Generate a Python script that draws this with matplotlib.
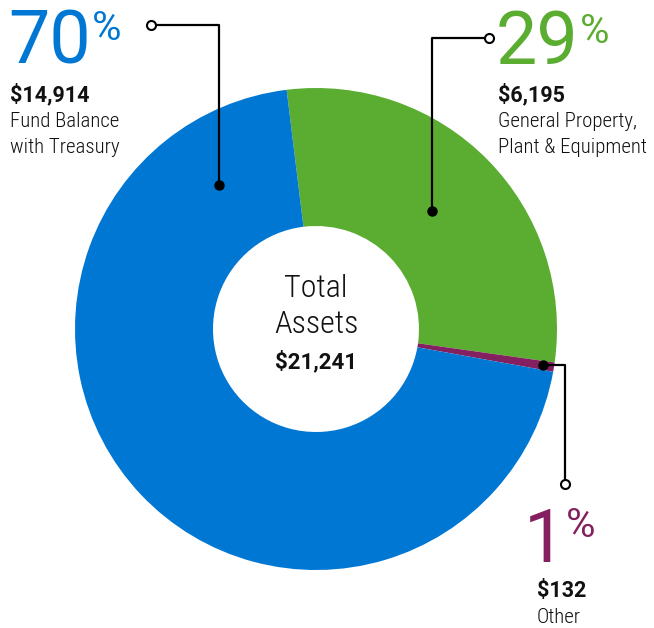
import numpy as np
import matplotlib
matplotlib.use('Agg')
import matplotlib.pyplot as plt
from matplotlib import font_manager

# data (millions of dollars)
categories = ['General Property,\nPlant & Equipment', 'Other', 'Fund Balance\nwith Treasury']
values = [6195, 132, 14914]
percent_labels = ['29', '1', '70']
colors = ['#5BAD32', '#84205F', '#0177D4']

W, H = 654, 628


def pick(names):
    for n in names:
        try:
            font_manager.findfont(n, fallback_to_default=False)
            return n
        except ValueError:
            pass
    return 'DejaVu Sans'


narrow = pick(['Roboto Condensed', 'Liberation Sans Narrow', 'Roboto'])
body_size = 13 if narrow == 'Roboto' else 15
plt.rcParams['font.family'] = [narrow, 'DejaVu Sans']
wide = ['Roboto', 'DejaVu Sans']

fig = plt.figure(figsize=(W / 100, H / 100), dpi=100)
ax = fig.add_axes([0, 0, 1, 1])
renderer = fig.canvas.get_renderer()


def py(y):
    # image pixel row -> data y
    return H - y


cx, cy, r_out, r_in = 316, 329, 241, 103
wedges, _ = ax.pie(values, colors=colors, startangle=97, counterclock=False,
                   center=(cx, py(cy)), radius=r_out,
                   wedgeprops=dict(width=r_out - r_in, edgecolor='none', linewidth=0))
ax.set_xlim(0, W)
ax.set_ylim(0, H)
ax.set_aspect('equal')
ax.axis('off')

# centre text
ax.text(cx, py(297), 'Total', ha='center', va='baseline', fontsize=23, fontweight='light',
        color='#111111')
ax.text(cx, py(333), 'Assets', ha='center', va='baseline', fontsize=23, fontweight='light',
        color='#111111')
ax.text(cx, py(368), f'${sum(values):,}', ha='center', va='baseline', fontsize=16,
        family=wide, fontweight='bold', color='#111111')

lw = 1.6


def leader(pts):
    xs = [p[0] for p in pts]
    ys = [py(p[1]) for p in pts]
    ax.plot(xs, ys, color='black', lw=lw, solid_capstyle='butt', zorder=5)
    ax.plot(xs[0], ys[0], 'o', ms=6.5, color='black', zorder=6)
    ax.plot(xs[-1], ys[-1], 'o', ms=6.5, mfc='white', mec='black', mew=1.5, zorder=6)


# purple dot sits on the "Other" wedge
w = wedges[1]
ang = np.deg2rad((w.theta1 + w.theta2) / 2)
pdx = cx + 230 * np.cos(ang)
pdy = cy - 230 * np.sin(ang)

leader([(219, 185), (219, 25), (151, 25)])
leader([(432, 211), (432, 38), (489, 38)])
leader([(pdx, pdy), (565, pdy), (565, 484)])


def big_pct(x, y_num, y_pct, pct, color, gap=1):
    t = ax.text(x, py(y_num), pct, ha='left', va='baseline', fontsize=53,
                family=wide, fontweight='normal', color=color)
    bb = t.get_window_extent(renderer)
    ax.text(bb.x1 + gap, py(y_pct), '%', ha='left', va='baseline', fontsize=29,
            family=wide, fontweight='normal', color=color)


def block(x, pct, color, y_num, y_pct, value, name, y_val):
    big_pct(x, y_num, y_pct, pct, color)
    ax.text(x + 2, py(y_val), f'${value:,}', ha='left', va='baseline', fontsize=15.5,
            family=wide, fontweight='bold', color='#111111')
    for k, line in enumerate(name.split('\n')):
        ax.text(x + 2, py(y_val + 26 * (k + 1)), line, ha='left', va='baseline',
                fontsize=body_size, fontweight='light', color='#111111')


block(8, percent_labels[2], colors[2], 63, 40, values[2], categories[2], 101)
block(496, percent_labels[0], colors[0], 64, 43, values[0], categories[0], 101)

# "Other" block
big_pct(524, 562, 537, percent_labels[1], colors[1], gap=0)
ax.text(537, py(597), f'${values[1]:,}', ha='left', va='baseline', fontsize=15.5,
        family=wide, fontweight='bold', color='#111111')
ax.text(537, py(623), categories[1], ha='left', va='baseline', fontsize=body_size,
        fontweight='light', color='#111111')

fig.savefig('out.png', dpi=100)
